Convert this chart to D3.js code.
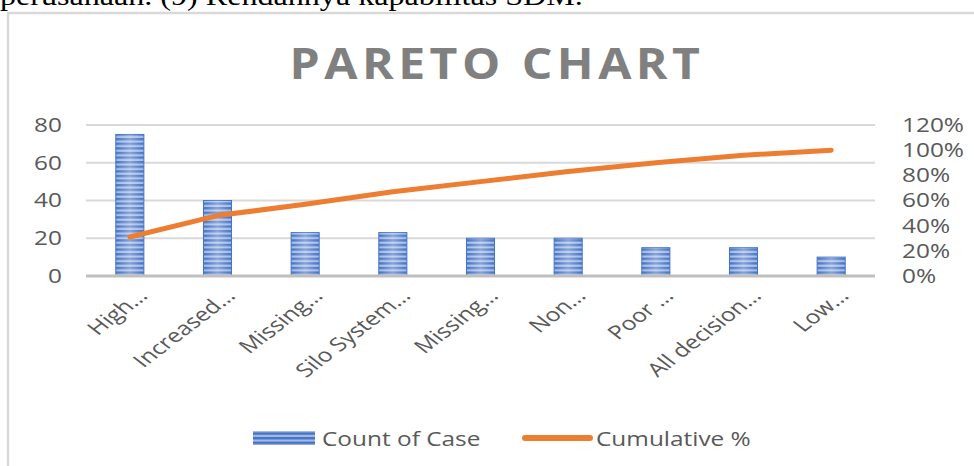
<!DOCTYPE html>
<html>
<head>
<meta charset="utf-8">
<script src="https://cdn.jsdelivr.net/npm/d3@7"></script>
<style>
    body { margin: 0; background: #fff; overflow: hidden; }
    svg { display: block; }
</style>
</head>
<body>
<svg id="vis_svg"></svg>
<script>
// Data
let categories = ['High…', 'Increased…', 'Missing…', 'Silo System…', 'Missing…', 'Non…', 'Poor …', 'All decision…', 'Low…'];
let counts = [75, 40, 23, 23, 20, 20, 15, 15, 10];
let cumulative = [31, 48, 57, 67, 75, 83, 90, 96, 100];   // percent
let leftTicks = [0, 20, 40, 60, 80];
let rightTicks = [0, 20, 40, 60, 80, 100, 120];
let seriesNames = ['Count of Case', 'Cumulative %'];

let config = {
    'svg': { 'width': 974, 'height': 466 },
    'plot': { 'left': 86, 'right': 875, 'top': 125, 'bottom': 276 },
    'font': '"Open Sans", "Noto Sans", sans-serif',
    'stretch': 1.22,      // picture is stretched sideways
    'labelStretch': 1.3
};

let svg = d3.select('#vis_svg')
    .attr('width', config.svg.width)
    .attr('height', config.svg.height);

// bar fill: horizontal stripes
let defs = svg.append('defs');
let pat = defs.append('pattern')
    .attr('id', 'stripes')
    .attr('patternUnits', 'userSpaceOnUse')
    .attr('width', 8).attr('height', 4.6);
pat.append('rect').attr('width', 8).attr('height', 4.6).attr('fill', '#a4bbe6');
pat.append('rect').attr('width', 8).attr('height', 2.4).attr('fill', '#4472c4');

let grad = defs.append('linearGradient').attr('id', 'shine');
grad.append('stop').attr('offset', '0%').attr('stop-color', '#fff').attr('stop-opacity', 0);
grad.append('stop').attr('offset', '50%').attr('stop-color', '#fff').attr('stop-opacity', 0.35);
grad.append('stop').attr('offset', '100%').attr('stop-color', '#fff').attr('stop-opacity', 0);

// text above the chart (from the document)
let docText = svg.append('text')
    .attr('font-family', '"Liberation Serif", "Times New Roman", serif')
    .attr('font-size', 28)
    .attr('fill', '#000')
    .text('perusahaan. (9) Rendahnya kapabilitas SDM.');
fitWidth(docText, 0, 5, 583);

// chart frame
svg.append('rect')
    .attr('x', 8).attr('y', 13)
    .attr('width', 1000).attr('height', 500)
    .attr('fill', '#fff')
    .attr('stroke', '#d9d9d9')
    .attr('stroke-width', 2.5);

// title
let title = svg.append('text')
    .attr('font-family', config.font)
    .attr('font-weight', 700)
    .attr('font-size', 43)
    .attr('letter-spacing', 4)
    .attr('fill', '#808080')
    .attr('text-anchor', 'middle')
    .text('PARETO CHART');
fitWidth(title, 497, 79, 415);

// scales
let x = d3.scaleBand()
    .domain(d3.range(categories.length))
    .range([config.plot.left, config.plot.right])
    .paddingInner(0.68)
    .paddingOuter(0.34);
let yLeft = d3.scaleLinear().domain([0, 80]).range([config.plot.bottom, config.plot.top]);
let yRight = d3.scaleLinear().domain([0, 120]).range([config.plot.bottom, config.plot.top]);

// gridlines
svg.append('g')
    .selectAll('line')
    .data(leftTicks.filter(d => d > 0))
    .join('line')
    .attr('x1', config.plot.left).attr('x2', config.plot.right)
    .attr('y1', d => yLeft(d)).attr('y2', d => yLeft(d))
    .attr('stroke', '#d9d9d9')
    .attr('stroke-width', 2);

// axes (labels only)
let leftAxis = svg.append('g')
    .attr('transform', translate(config.plot.left, 0))
    .call(d3.axisLeft(yLeft).tickValues(leftTicks).tickSize(0).tickPadding(0));
let rightAxis = svg.append('g')
    .attr('transform', translate(config.plot.right, 0))
    .call(d3.axisRight(yRight).tickValues(rightTicks).tickSize(0).tickPadding(0)
        .tickFormat(d => d + '%'));
[leftAxis, rightAxis].forEach(a => {
    a.select('.domain').remove();
    a.selectAll('text')
        .attr('font-family', config.font)
        .attr('font-size', 20)
        .attr('fill', '#595959');
});
leftAxis.selectAll('text').attr('x', null).attr('transform', 'translate(-24,0) scale(' + config.stretch + ',1)');
rightAxis.selectAll('text').attr('x', null).attr('transform', 'translate(27,0) scale(' + config.stretch + ',1)');

// bars
let bars = svg.append('g');
bars.selectAll('rect.bar')
    .data(counts)
    .join('rect')
    .attr('class', 'bar')
    .attr('x', (d, i) => x(i))
    .attr('y', d => yLeft(d))
    .attr('width', x.bandwidth())
    .attr('height', d => yLeft(0) - yLeft(d))
    .attr('fill', 'url(#stripes)')
    .attr('stroke', '#4472c4')
    .attr('stroke-width', 1);
bars.selectAll('rect.shine')
    .data(counts)
    .join('rect')
    .attr('class', 'shine')
    .attr('x', (d, i) => x(i))
    .attr('y', d => yLeft(d))
    .attr('width', x.bandwidth())
    .attr('height', d => yLeft(0) - yLeft(d))
    .attr('fill', 'url(#shine)');

// baseline
svg.append('line')
    .attr('x1', config.plot.left).attr('x2', config.plot.right)
    .attr('y1', yLeft(0)).attr('y2', yLeft(0))
    .attr('stroke', '#bfbfbf')
    .attr('stroke-width', 3);

// cumulative line
let line = d3.line()
    .x((d, i) => x(i) + x.bandwidth() / 2)
    .y(d => yRight(d));
svg.append('path')
    .datum(cumulative)
    .attr('d', line)
    .attr('fill', 'none')
    .attr('stroke', '#ed7d31')
    .attr('stroke-width', 5)
    .attr('stroke-linecap', 'round')
    .attr('stroke-linejoin', 'round');

// category labels
svg.append('g')
    .selectAll('text')
    .data(categories)
    .join('text')
    .attr('transform', (d, i) => translate(x(i) + x.bandwidth() / 2 + 19, 297)
        + ' scale(' + config.labelStretch + ',1) rotate(-45)')
    .attr('text-anchor', 'end')
    .attr('font-family', config.font)
    .attr('font-size', 19)
    .attr('fill', '#595959')
    .text(d => d);

// legend
let legend = svg.append('g');
legend.append('rect')
    .attr('x', 253).attr('y', 431)
    .attr('width', 62).attr('height', 14)
    .attr('fill', 'url(#stripes)');
legend.append('text')
    .attr('transform', translate(322, 446) + ' scale(' + config.stretch + ',1)')
    .attr('font-family', config.font)
    .attr('font-size', 20)
    .attr('fill', '#595959')
    .text(seriesNames[0]);
legend.append('line')
    .attr('x1', 525).attr('x2', 590)
    .attr('y1', 438).attr('y2', 438)
    .attr('stroke', '#ed7d31')
    .attr('stroke-width', 6)
    .attr('stroke-linecap', 'round');
legend.append('text')
    .attr('transform', translate(596, 446) + ' scale(' + config.stretch + ',1)')
    .attr('font-family', config.font)
    .attr('font-size', 20)
    .attr('fill', '#595959')
    .text(seriesNames[1]);


// Helper functions

// squeeze/stretch a text sideways so it spans the given width
function fitWidth(sel, x0, y0, w) {
    let len = sel.node().getComputedTextLength();
    sel.attr('transform', translate(x0, y0) + ' scale(' + (w / len) + ',1)');
}

function translate(x, y) {
    return 'translate(' + x + ',' + y + ')';
}
</script>
</body>
</html>
